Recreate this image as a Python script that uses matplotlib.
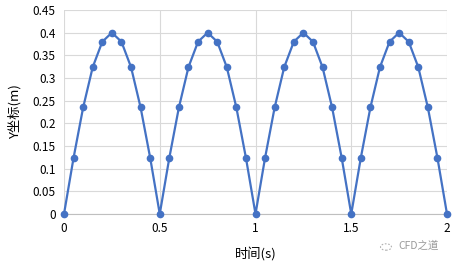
import matplotlib
matplotlib.use("Agg")
import matplotlib.pyplot as plt
from matplotlib.patches import Circle

plt.rcParams['font.family'] = ['Noto Sans CJK SC', 'DejaVu Sans']

time_s = [0, 0.05, 0.1, 0.15, 0.2, 0.25, 0.3, 0.35, 0.4, 0.45,
          0.5, 0.55, 0.6, 0.65, 0.7, 0.75, 0.8, 0.85, 0.9, 0.95,
          1.0, 1.05, 1.1, 1.15, 1.2, 1.25, 1.3, 1.35, 1.4, 1.45,
          1.5, 1.55, 1.6, 1.65, 1.7, 1.75, 1.8, 1.85, 1.9, 1.95, 2.0]
y_m = [0, 0.124, 0.235, 0.324, 0.380, 0.400, 0.380, 0.324, 0.235, 0.124,
       0, 0.124, 0.235, 0.324, 0.380, 0.400, 0.380, 0.324, 0.235, 0.124,
       0, 0.124, 0.235, 0.324, 0.380, 0.400, 0.380, 0.324, 0.235, 0.124,
       0, 0.124, 0.235, 0.324, 0.380, 0.400, 0.380, 0.324, 0.235, 0.124, 0]
x_ticks = [0, 0.5, 1, 1.5, 2]
x_tick_labels = ['0', '0.5', '1', '1.5', '2']
y_ticks = [0, 0.05, 0.1, 0.15, 0.2, 0.25, 0.3, 0.35, 0.4, 0.45]
y_tick_labels = ['0', '0.05', '0.1', '0.15', '0.2', '0.25', '0.3', '0.35', '0.4', '0.45']

fig = plt.figure(figsize=(4.55, 2.66), dpi=100)
ax = fig.add_axes([64/455, 52/266, (447-64)/455, (214-10)/266])
ax.plot(time_s, y_m, color='#4472C4', linewidth=1.6, marker='o', markersize=4.5, zorder=3, clip_on=False)
ax.set_xlim(0, 2)
ax.set_ylim(0, 0.45)
ax.set_xticks(x_ticks)
ax.set_xticklabels(x_tick_labels)
ax.set_yticks(y_ticks)
ax.set_yticklabels(y_tick_labels)
ax.grid(True, color='#D9D9D9', linewidth=0.8)
for s in ['top', 'right', 'left']:
    ax.spines[s].set_visible(False)
ax.spines['bottom'].set_color('#BFBFBF')
ax.tick_params(length=0, labelsize=8.5, colors='#000000', pad=6)
ax.set_xlabel('时间(s)', fontsize=9.5, labelpad=9)
ax.set_ylabel('Y坐标(m)', fontsize=9.5, labelpad=8)
fig.text(398/455, 1 - 246/266, 'CFD之道', fontsize=7.5, color='#9A9A9A', ha='left', va='center')
fig.patches.append(Circle((386/455, 1 - 247/266), 0.012, transform=fig.transFigure,
                          fill=False, edgecolor='#B0B0B0', linewidth=0.8, linestyle=(0, (1.5, 1.5))))
fig.savefig('out.png', dpi=100)
